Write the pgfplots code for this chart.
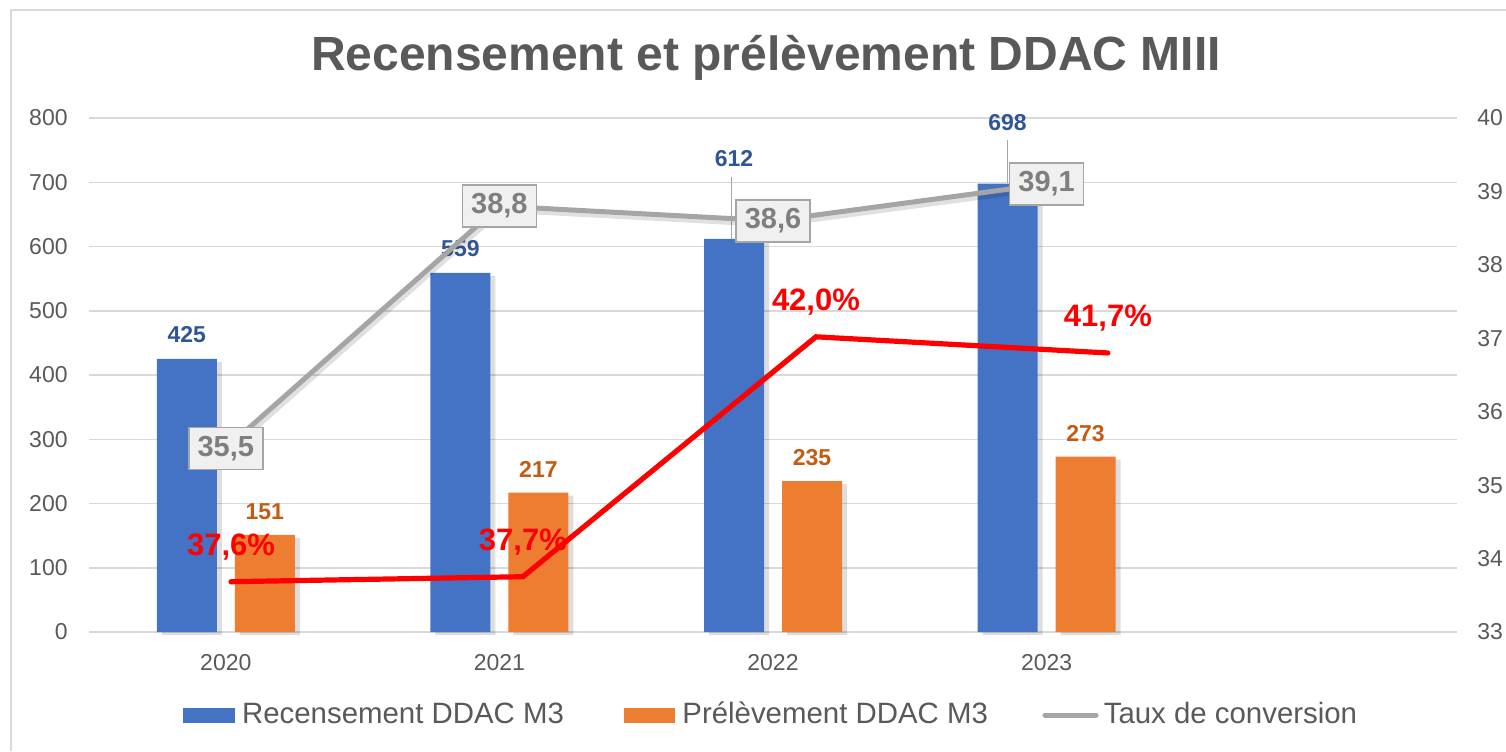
\documentclass[border=0pt]{standalone}
\usepackage{pgfplots}
\usepackage{pgfplotstable}
\pgfplotsset{compat=1.18}
\usepackage{fontspec}
\setmainfont{Liberation Sans}
\definecolor{cblue}{HTML}{4472C4}
\definecolor{corange}{HTML}{ED7D31}
\definecolor{cgrayline}{HTML}{A5A5A5}
\definecolor{ctext}{HTML}{595959}
\definecolor{cbluelab}{HTML}{2F5597}
\definecolor{corangelab}{HTML}{C55A11}
\definecolor{cboxtext}{HTML}{7F7F7F}
\definecolor{cboxfill}{HTML}{F0F0F0}
\definecolor{cgrid}{HTML}{D9D9D9}

\pgfplotstableread{
x y dy
0 425 0
1 559 0
2 612 28.2
3 698 18.4
}\recens
\pgfplotstableread{
x y
0 151
1 217
2 235
3 273
}\prelev
\pgfplotstableread{
x y
0 35.5
1 38.8
2 38.6
3 39.1
}\taux
\pgfplotstableread{
x y lab
0.019 33.685 37.6
1.086 33.753 37.7
2.157 37.02 42.0
3.224 36.80 41.7
}\rouge

\begin{document}
\begin{tikzpicture}[x=1pt,y=1pt]
\path[use as bounding box] (0,0) rectangle (753,375.5);
\draw[cgrid, line width=0.75pt] (5.5,0) -- (5.5,370.5) -- (753,370.5);
\node[font=\fontsize{24}{29}\selectfont\bfseries, text=ctext] at (383,346.5) {Recensement et prélèvement DDAC MIII};

\begin{axis}[
  at={(44.5pt,59.5pt)}, anchor=south west,
  scale only axis, width=684pt, height=257pt,
  xmin=-0.5, xmax=4.5, ymin=0, ymax=800,
  xtick={0,1,2,3}, xticklabels={2020,2021,2022,2023},
  ytick={0,100,...,800},
  axis line style={draw=none},
  tick style={draw=none}, major tick length=0pt,
  ymajorgrids, grid style={cgrid, line width=0.75pt},
  /pgf/number format/assume math mode=true,
  yticklabel style={font=\fontsize{11.5}{13}\selectfont, text=ctext, inner sep=0pt, anchor=east, xshift=-10.5pt},
  xticklabel style={font=\fontsize{11.5}{13}\selectfont, text=ctext, inner sep=0pt, anchor=north, yshift=-11pt},
  clip=false,
]
% shadows
\addplot[ybar, bar width=30pt, bar shift=-19.5pt, fill=black, draw=none, opacity=0.13, xshift=2.5pt, yshift=-1.5pt, forget plot] table[x=x,y=y] {\recens};
\addplot[ybar, bar width=30pt, bar shift=19.5pt, fill=black, draw=none, opacity=0.13, xshift=2.5pt, yshift=-1.5pt, forget plot] table[x=x,y=y] {\prelev};
% bars
\addplot[ybar, bar width=30pt, bar shift=-19.5pt, fill=cblue, draw=none,
  visualization depends on={\thisrow{dy} \as \dy},
  nodes near coords,
  every node near coord/.append style={anchor=center, xshift=-19.5pt, yshift=12pt+\dy pt, font=\fontsize{11.5}{13}\selectfont\bfseries, text=cbluelab}]
  table[x=x,y=y] {\recens};
\addplot[ybar, bar width=30pt, bar shift=19.5pt, fill=corange, draw=none,
  nodes near coords,
  every node near coord/.append style={anchor=center, xshift=19.5pt, yshift=11.5pt, font=\fontsize{11.5}{13}\selectfont\bfseries, text=corangelab}]
  table[x=x,y=y] {\prelev};
% leader lines
\draw[cgrayline, line width=0.5pt] (axis cs:1.849,708) -- (axis cs:1.849,612);
\draw[cgrayline, line width=0.5pt] (axis cs:2.858,766) -- (axis cs:2.858,699);
\end{axis}

\begin{axis}[
  at={(44.5pt,59.5pt)}, anchor=south west,
  scale only axis, width=684pt, height=257pt,
  xmin=-0.5, xmax=4.5, ymin=33, ymax=40,
  ytick={33,...,40},
  axis x line=none, axis y line*=right,
  axis line style={draw=none},
  tick style={draw=none}, major tick length=0pt,
  /pgf/number format/assume math mode=true,
  yticklabel style={font=\fontsize{11.5}{13}\selectfont, text=ctext, inner sep=0pt, anchor=west, xshift=10pt},
  clip=false,
]
\addplot[black, opacity=0.12, line width=2.5pt, xshift=1pt, yshift=-2pt, forget plot] table[x=x,y=y] {\taux};
\addplot[cgrayline, line width=2.5pt,
  nodes near coords={\pgfmathprintnumber[fixed,fixed zerofill,precision=1,use comma,assume math mode=true]{\pgfplotspointmeta}},
  every node near coord/.append style={anchor=center, fill=cboxfill, draw=cgrayline, line width=0.75pt, inner sep=0pt, minimum width=37pt, minimum height=21pt, font=\fontsize{14.5}{16}\selectfont\bfseries, text=cboxtext}]
  table[x=x,y=y] {\taux};
\addplot[red, line width=2.6pt, line cap=round,
  point meta=explicit,
  nodes near coords={\pgfmathprintnumber[fixed,fixed zerofill,precision=1,use comma,assume math mode=true]{\pgfplotspointmeta}\%},
  every node near coord/.append style={anchor=center, yshift=17.5pt, font=\fontsize{15.5}{17}\selectfont\bfseries, text=red}]
  table[x=x,y=y,meta=lab] {\rouge};
\end{axis}

% legend
\fill[cblue] (91.35,13.85) rectangle (117.5,21.35);
\node[anchor=base west, inner sep=0pt, font=\fontsize{14.7}{17}\selectfont, text=ctext] at (120.85,13.85) {Recensement DDAC M3};
\fill[corange] (311.8,13.85) rectangle (337.7,21.35);
\node[anchor=base west, inner sep=0pt, font=\fontsize{14.7}{17}\selectfont, text=ctext] at (341,13.85) {Prélèvement DDAC M3};
\draw[cgrayline, line width=2.5pt, line cap=round] (522.5,18) -- (548,18);
\node[anchor=base west, inner sep=0pt, font=\fontsize{14.7}{17}\selectfont, text=ctext] at (551.7,13.85) {Taux de conversion};
\end{tikzpicture}
\end{document}
